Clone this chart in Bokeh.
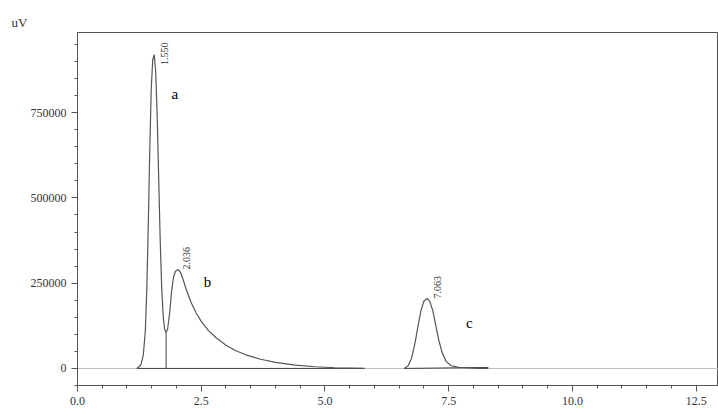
from bokeh.plotting import figure
from bokeh.models import Range1d, SingleIntervalTicker, NumeralTickFormatter
from bokeh.core.properties import value
from bokeh.embed import file_html
from bokeh.resources import INLINE
import math

# chromatogram trace, peaks a and b
t_ab = [1.2, 1.28, 1.33, 1.37, 1.4, 1.43, 1.46, 1.49, 1.52, 1.55, 1.58, 1.61, 1.64, 1.67,
        1.7, 1.73, 1.76, 1.79, 1.82, 1.86, 1.9, 1.94, 1.98, 2.036, 2.08, 2.14, 2.2, 2.3,
        2.4, 2.5, 2.65, 2.8, 3.0, 3.2, 3.4, 3.7, 4.0, 4.4, 4.8, 5.2, 5.5, 5.8]
s_ab = [0, 10000, 40000, 110000, 230000, 420000, 640000, 820000, 905000, 920000, 870000,
        740000, 560000, 380000, 240000, 155000, 115000, 105000, 115000, 160000, 225000,
        268000, 285000, 290000, 282000, 258000, 230000, 192000, 162000, 138000, 110000,
        90000, 68000, 52000, 40000, 27000, 18000, 10000, 5000, 2000, 1000, 0]
# peak c
t_c = [6.6, 6.68, 6.75, 6.82, 6.88, 6.94, 7.0, 7.063, 7.12, 7.18, 7.24, 7.3, 7.37, 7.45,
       7.55, 7.7, 7.9, 8.1, 8.3]
s_c = [0, 8000, 30000, 75000, 125000, 170000, 198000, 205000, 196000, 168000, 125000,
       82000, 45000, 20000, 8000, 3000, 1500, 500, 0]

peak_times = [1.550, 2.036, 7.063]
peak_heights = [920000, 290000, 205000]
label_dx = [0.2, 0.17, 0.22]
label_dy = [-30000, 0, 0]
peak_names = ["a", "b", "c"]
name_x = [1.9, 2.55, 7.85]
name_y = [780000, 230000, 110000]
valley_t, valley_s = 1.79, 105000

serif = "Liberation Serif"
p = figure(frame_width=641, frame_height=353, output_backend="svg", toolbar_location=None,
           x_range=Range1d(0, 12.95), y_range=Range1d(-50000, 985000),
           min_border_left=77, min_border_top=32, min_border_right=0, min_border_bottom=23,
           title="uV")
p.grid.visible = False
p.outline_line_color = "#555555"
p.title.text_font = serif
p.title.text_font_style = "normal"
p.title.text_font_size = "13px"
p.title.text_color = "#333333"
p.title.offset = -66
p.title.standoff = 6

for ax in (p.xaxis[0], p.yaxis[0]):
    ax.major_label_text_font = serif
    ax.major_label_text_font_size = "12px"
    ax.major_label_text_color = "#333333"
    ax.axis_line_color = "#555555"
    ax.major_tick_line_color = "#555555"
    ax.minor_tick_line_color = "#555555"
    ax.major_tick_out = 6
    ax.major_tick_in = 0
    ax.minor_tick_out = 3
    ax.minor_tick_in = 0
p.xaxis.ticker = SingleIntervalTicker(interval=2.5, num_minor_ticks=5)
p.xaxis.formatter = NumeralTickFormatter(format="0.0")
p.yaxis.ticker = SingleIntervalTicker(interval=250000, num_minor_ticks=5)
p.yaxis.formatter = NumeralTickFormatter(format="0")

# zero line
p.line([0, 12.95], [0, 0], line_color="#bbbbbb", line_width=1)
# baselines
p.line([t_ab[0], t_ab[-1]], [0, 0], line_color="#444444", line_width=1)
p.line([t_c[0], t_c[-1]], [0, 3000], line_color="#444444", line_width=1)
p.line([valley_t, valley_t], [0, valley_s], line_color="#444444", line_width=1)
# trace
p.line(t_ab, s_ab, line_color="#555555", line_width=1.2)
p.line(t_c, s_c, line_color="#555555", line_width=1.2)

p.text([t + d for t, d in zip(peak_times, label_dx)],
       [h + d for h, d in zip(peak_heights, label_dy)],
       text=["%.3f" % t for t in peak_times], angle=math.pi / 2,
       text_font=value(serif), text_font_size="10px", text_color="#333333",
       text_baseline="middle")
p.text(name_x, name_y, text=peak_names, text_font=value(serif),
       text_font_size="15px", text_color="black")

open("out.html", "w").write(file_html(p, INLINE))
